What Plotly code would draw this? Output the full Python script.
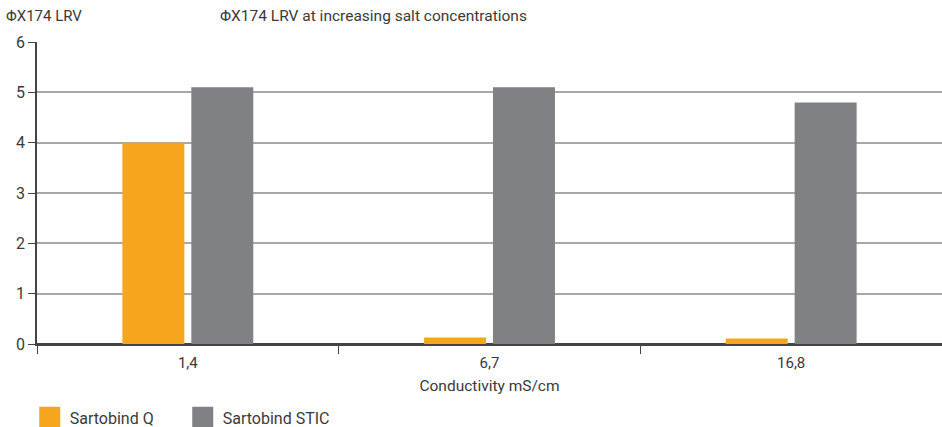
import plotly.graph_objects as go

categories = ["1,4", "6,7", "16,8"]
series_names = ["Sartobind Q", "Sartobind STIC"]
sartobind_q = [4.0, 0.13, 0.11]
sartobind_stic = [5.1, 5.1, 4.8]
colors = ["#F7A51D", "#808185"]
y_ticks = [0, 1, 2, 3, 4, 5, 6]

FONT = "Roboto, Liberation Sans, sans-serif"
TXT = "#3a3a3a"

fig = go.Figure()
for name, vals, col in zip(series_names, [sartobind_q, sartobind_stic], colors):
    fig.add_trace(go.Bar(x=categories, y=vals, name=name, showlegend=False, legendgroup=name,
                         marker=dict(color=col, line=dict(width=0))))
# legend swatches (large squares like the reference)
for name, col in zip(series_names, colors):
    fig.add_trace(go.Scatter(x=[None], y=[None], mode="markers", name=name, legendgroup=name,
                             marker=dict(symbol="square", size=16, color=col,
                                         line=dict(color=col, width=5))))

fig.update_layout(
    width=942, height=427,
    margin=dict(l=37, r=0, t=42, b=83, autoexpand=False),
    paper_bgcolor="white", plot_bgcolor="white",
    barmode="group", bargap=0.543, bargroupgap=0.101,
    font=dict(family=FONT, size=15, color=TXT),
    showlegend=True,
    legend=dict(orientation="h", x=-0.008, xanchor="left", y=-0.243, yanchor="middle",
                font=dict(size=16, color=TXT), itemwidth=30, itemsizing="trace",
                entrywidth=108, entrywidthmode="pixels", traceorder="normal"),
    annotations=[
        dict(text="ΦX174 LRV", xref="paper", yref="paper", x=-0.036, y=1.0, yshift=15,
             xanchor="left", yanchor="bottom", showarrow=False, font=dict(size=15, color=TXT)),
        dict(text="ΦX174 LRV at increasing salt concentrations", xref="paper", yref="paper",
             x=0.2, y=1.0, yshift=15, xanchor="left", yanchor="bottom", showarrow=False,
             font=dict(size=15.5, color=TXT)),
    ],
)
fig.update_xaxes(
    automargin=False,
    showline=True, linecolor="#444444", linewidth=1.5,
    ticks="outside", tickson="boundaries", ticklen=8, tickcolor="#444444",
    showgrid=False, tickfont=dict(size=15), ticklabelstandoff=4,
    title=dict(text="Conductivity mS/cm", font=dict(size=15.5), standoff=9),
)
fig.update_yaxes(
    automargin=False,
    range=[0, 6], tickvals=y_ticks, showline=True, linecolor="#444444", linewidth=1.5,
    ticks="outside", ticklen=7, tickcolor="#444444",
    showgrid=True, gridcolor="#a8a8a8", gridwidth=1.5,
    zeroline=True, zerolinecolor="#444444", zerolinewidth=1.5,
    tickfont=dict(size=16),
)
fig.write_html(
    "out.html",
    config={"responsive": False, "displayModeBar": False},
    post_script="document.body.style.margin='0';document.body.style.overflow='hidden';",
)
